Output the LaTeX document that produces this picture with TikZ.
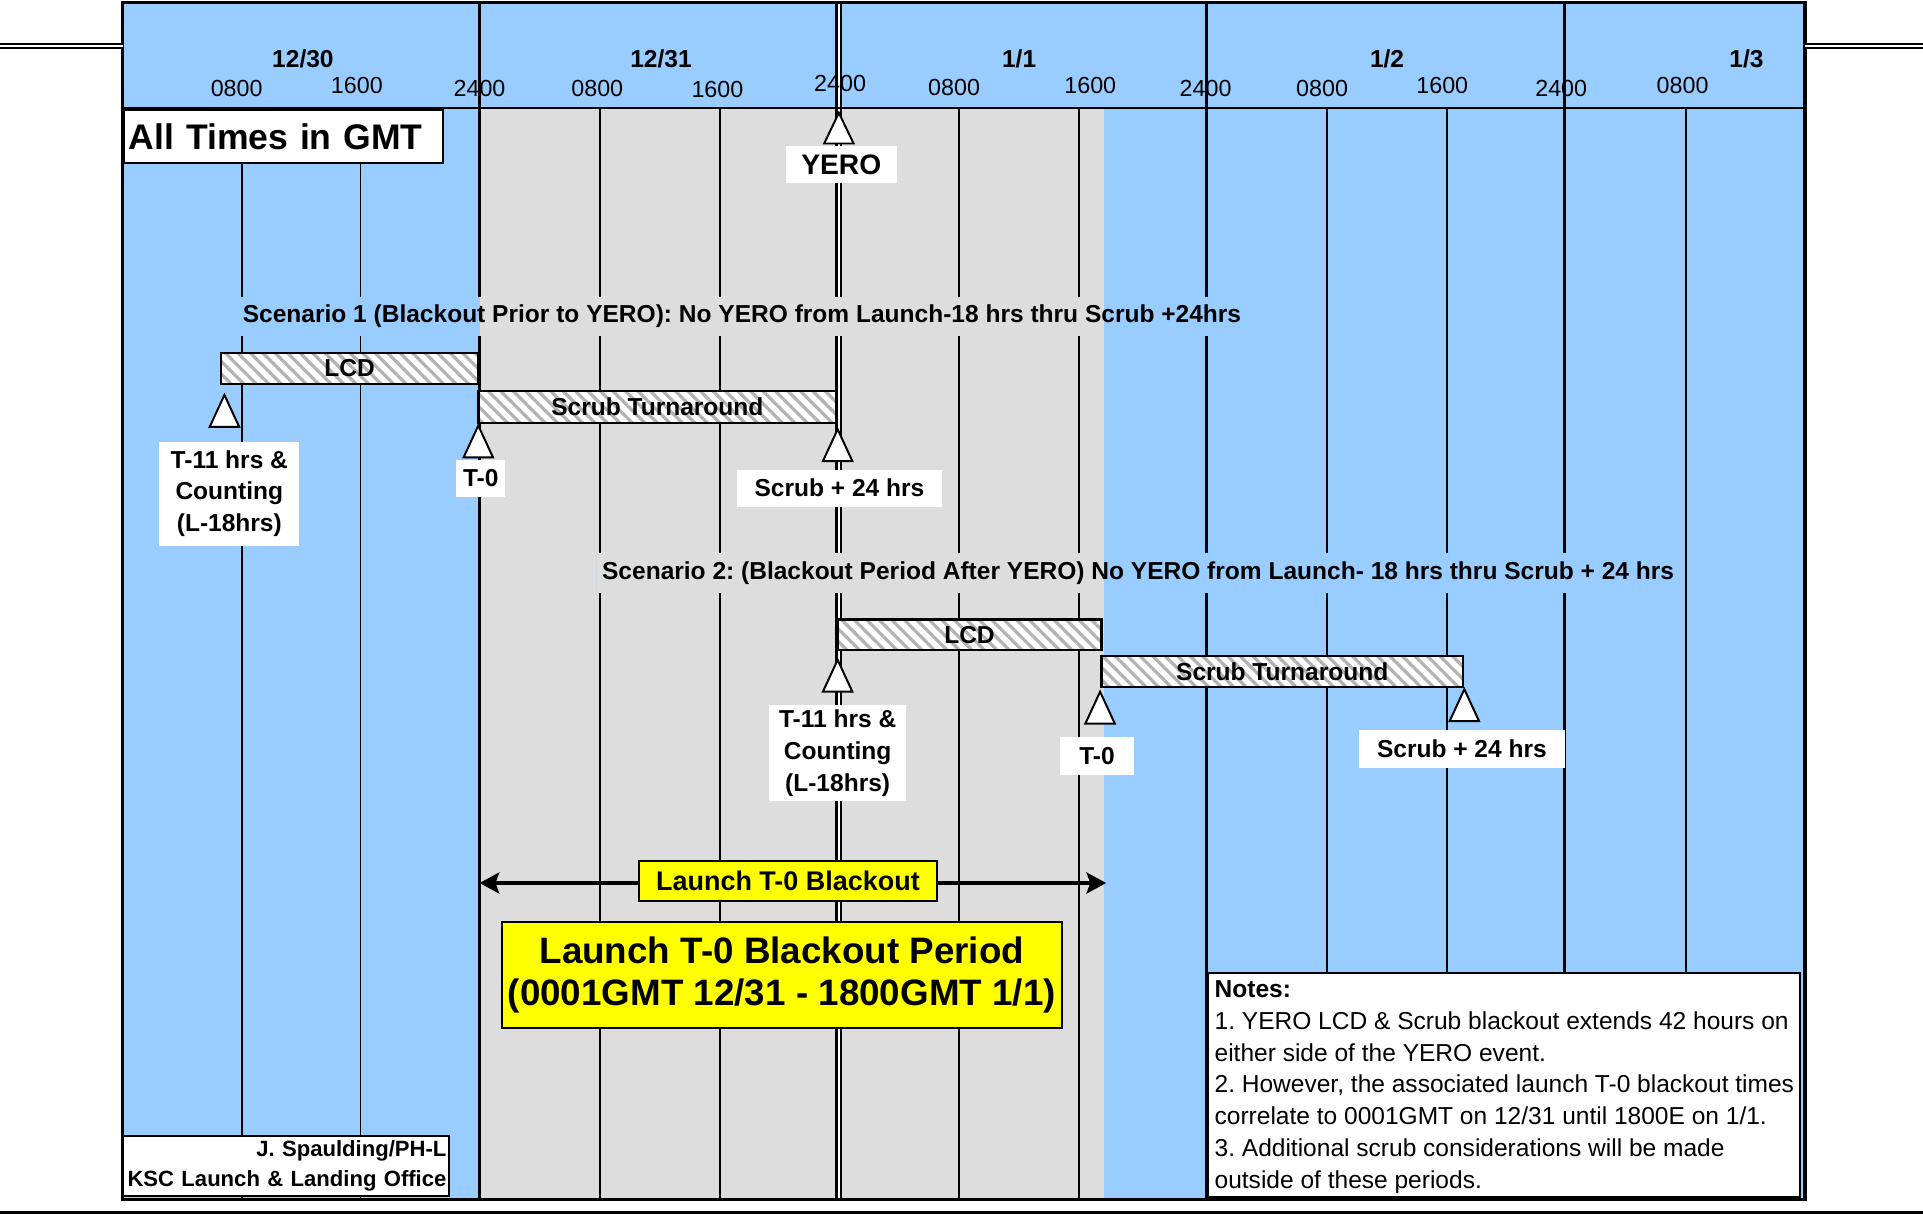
\documentclass[tikz,border=0pt]{standalone}
\usepackage{fontspec}
\setmainfont{Liberation Sans}
\usetikzlibrary{patterns.meta,arrows.meta}
\definecolor{skyb}{HTML}{99CCFF}
\definecolor{blk}{HTML}{DDDDDD}
\definecolor{yel}{HTML}{FFFF00}
\definecolor{hatch}{HTML}{B2B2B2}
\pgfdeclarelayer{back}
\pgfdeclarelayer{grid}
\pgfdeclarelayer{knock}
\pgfsetlayers{back,grid,knock,main}
\frenchspacing
\begin{document}
\begin{tikzpicture}[x=0.5pt,y=-0.5pt,
 hourlbl/.style={font=\fontsize{9.5}{11}\selectfont, inner sep=0},
 datelbl/.style={font=\bfseries\fontsize{10}{11}\selectfont, inner sep=0},
 hourline/.style={line width=0.75pt},
 dayline/.style={line width=1.25pt},
 bar/.style={draw, line width=1pt, preaction={fill=white},
   pattern={Lines[angle=-45,distance=3.6pt,line width=1.3pt]}, pattern color=hatch,
   inner sep=0, font=\bfseries\fontsize{10}{12}\selectfont},
 tri/.style={draw, fill=white, line width=0.8pt, line join=miter},
 wlbl/.style={fill=white, inner sep=0, align=center, font=\bfseries\fontsize{10}{13}\selectfont},
 scen/.style={inner xsep=2pt, inner ysep=3pt, font=\bfseries\fontsize{10}{12}\selectfont},
 ybox/.style={draw, fill=yel, line width=0.8pt, inner sep=0, align=center},
 wbox/.style={draw, fill=white, line width=0.8pt, inner sep=0},
 bktip/.tip={Stealth[length=8pt,width=8.5pt,inset=1.5pt]},
]
\useasboundingbox (0,0) rectangle (1568,990);
% backgrounds
\begin{pgfonlayer}{back}
\fill[white] (0,0) rectangle (1568,990);
\fill[skyb] (100,2) rectangle (1472,978);
\fill[blk] (391,88) rectangle (900,978);
\end{pgfonlayer}
% grid lines
\begin{pgfonlayer}{grid}
\foreach \x in {197,294,489,587,782,880,1082,1180,1375}
  \draw[hourline] (\x,88) -- (\x,978);
\foreach \x in {391,984,1276}
  \draw[dayline] (\x,2) -- (\x,978);
\draw[double=white, double distance=1.1pt, line width=0.9pt] (684,2) -- (684,978);
\end{pgfonlayer}
% frame
\draw[line width=1.1pt] (100,88) -- (1472,88);
\draw[line width=1.5pt] (100,2) rectangle (1472,978);
\draw[double=white, double distance=1.2pt, line width=0.7pt] (0,37.5) -- (100,37.5);
\draw[double=white, double distance=1.2pt, line width=0.7pt] (1472,37.5) -- (1568,37.5);
\draw[line width=1pt] (0,988.5) -- (1568,988.5);
% header labels
\node[datelbl] (d1) at (247,48) {12/30};
\node[datelbl] (d2) at (539,48) {12/31};
\node[datelbl] (d3) at (831,48) {1/1};
\node[datelbl] (d4) at (1131,48) {1/2};
\node[datelbl] (d5) at (1424,48) {1/3};
\node[hourlbl] (h1) at (193,72) {0800};
\node[hourlbl] (h2) at (291,70) {1600};
\node[hourlbl] (h3) at (391,72) {2400};
\node[hourlbl] (h4) at (487,72) {0800};
\node[hourlbl] (h5) at (585,73) {1600};
\node[hourlbl] (h6) at (685,68) {2400};
\node[hourlbl] (h7) at (778,71) {0800};
\node[hourlbl] (h8) at (889,70) {1600};
\node[hourlbl] (h9) at (983,72) {2400};
\node[hourlbl] (h10) at (1078,72) {0800};
\node[hourlbl] (h11) at (1176,70) {1600};
\node[hourlbl] (h12) at (1273,72) {2400};
\node[hourlbl] (h13) at (1372,70) {0800};
% all times
\node[wbox, minimum width=130pt, minimum height=21.5pt, text width=126pt, align=left,
  inner xsep=2pt, font=\bfseries\fontsize{14.5}{16}\selectfont] (gmt) at (231,111.5) {All Times in GMT};
% YERO
\draw[tri] (684,92) -- (672,117) -- (696,117) -- cycle;
\node[wlbl, minimum width=45pt, minimum height=15pt, font=\bfseries\fontsize{11.5}{13}\selectfont] (yero) at (686,134) {YERO};
% scenario texts
\node[scen] (s1) at (605,258) {Scenario 1 (Blackout Prior to YERO): No YERO from Launch-18 hrs thru Scrub +24hrs};
\node[scen] (s2) at (928,467) {Scenario 2: (Blackout Period After YERO) No YERO from Launch- 18 hrs thru Scrub + 24 hrs};
\begin{pgfonlayer}{knock}
\foreach \n in {s1,s2}{
\begin{scope}
\clip (\n.south west) rectangle (\n.north east);
\fill[skyb] (100,88) rectangle (1472,978);
\fill[blk] (391,88) rectangle (900,978);
\end{scope}}
\end{pgfonlayer}
% scenario 1 bars
\node[bar, minimum width=105pt, minimum height=12.5pt] (lcd1) at (285,300.5) {LCD};
\node[bar, minimum width=146pt, minimum height=13pt] (st1) at (536,332) {Scrub Turnaround};
\foreach \x/\y in {183/322, 390/347, 683/350, 683/538, 897/564, 1194/562}
  \draw[tri] (\x,\y) -- ++(-12,26) -- ++(24,0) -- cycle;
\node[wlbl, minimum width=57pt, minimum height=42.5pt] (t11a) at (187,402.5) {T-11 hrs \&\\Counting\\(L-18hrs)};
\node[wlbl, minimum width=20pt, minimum height=15pt] (t0a) at (392,390) {T-0};
\node[wlbl, minimum width=83.5pt, minimum height=15pt] (sca) at (684.5,398) {Scrub + 24 hrs};
% scenario 2 bars
\node[bar, minimum width=107.5pt, minimum height=12.5pt] (lcd2) at (790.5,517.5) {LCD};
\node[bar, minimum width=147.5pt, minimum height=12.5pt] (st2) at (1045.5,547.5) {Scrub Turnaround};
\node[wlbl, minimum width=56pt, minimum height=39pt] (t11b) at (683,614) {T-11 hrs \&\\Counting\\(L-18hrs)};
\node[wlbl, minimum width=30.5pt, minimum height=15.5pt] (t0b) at (894.5,616.5) {T-0};
\node[wlbl, minimum width=84pt, minimum height=15.5pt] (scb) at (1192,610.5) {Scrub + 24 hrs};
% blackout arrow
\coordinate (aL) at (391,720);
\coordinate (aR) at (902,720);
\draw[line width=1.8pt, bktip-bktip] (aL) -- (aR);
\node[ybox, minimum width=121.5pt, minimum height=16.5pt, font=\bfseries\fontsize{11}{13}\selectfont] (ysmall) at (642.5,718.5) {Launch T-0 Blackout};
\node[ybox, minimum width=228.5pt, minimum height=43pt, font=\bfseries\fontsize{15}{17.5}\selectfont] (ybig) at (637.5,795) {Launch T-0 Blackout Period\\(0001GMT 12/31 - 1800GMT 1/1)};
% notes
\node[wbox, minimum width=241.5pt, minimum height=91.5pt] (notesbox) at (1226.5,884.5) {};
\node[anchor=north west, inner sep=0, align=left, font=\fontsize{10}{13}\selectfont] (notes) at (990,799)
  {\textbf{Notes:}\\1. YERO LCD \& Scrub blackout extends 42 hours on\\either side of the YERO event.\\2. However, the associated launch T-0 blackout times\\correlate to 0001GMT on 12/31 until 1800E on 1/1.\\3. Additional scrub considerations will be made\\outside of these periods.};
% signature
\node[wbox, minimum width=133pt, minimum height=24.5pt, text width=131pt, align=right,
  inner xsep=1pt, font=\bfseries\fontsize{9}{12}\selectfont] (sig) at (233,950.5)
  {J. Spaulding/PH-L\\KSC Launch \& Landing Office};
\end{tikzpicture}
\end{document}
